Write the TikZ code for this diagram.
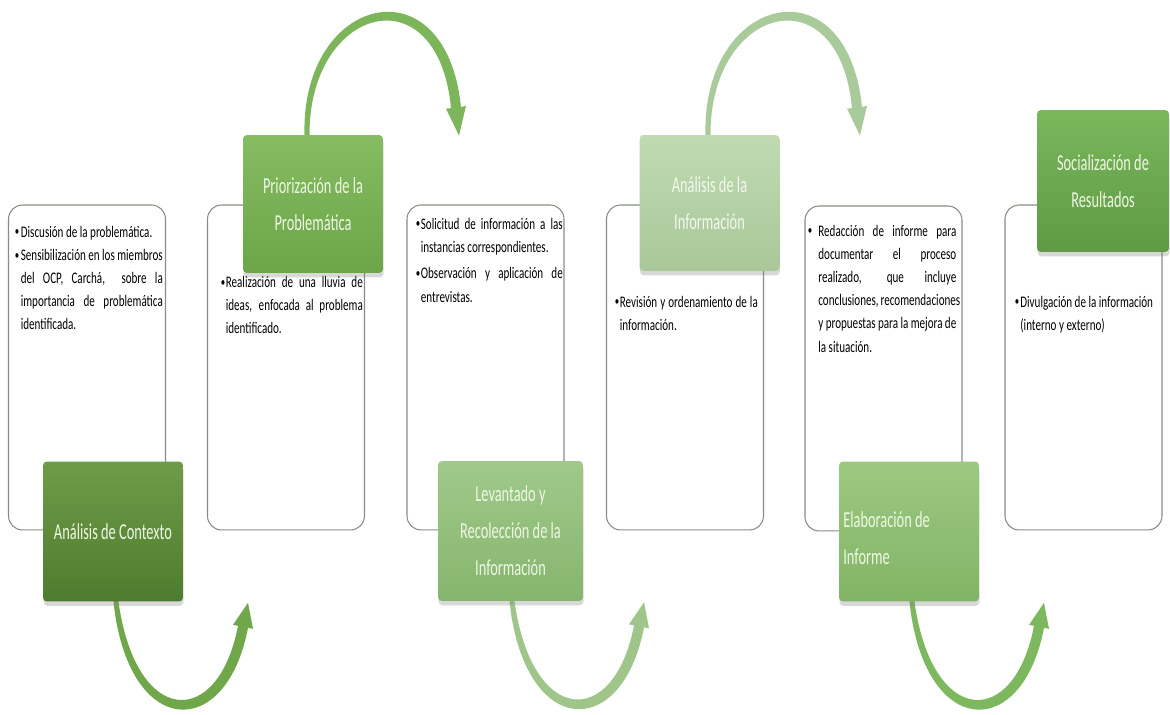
\documentclass[tikz,border=0pt]{standalone}
\usepackage{fontspec}
\usepackage{graphicx}
\newfontfamily\bodyfont{Carlito}[FakeStretch=0.685]
\newfontfamily\titlefont{Carlito}[FakeStretch=0.63]
\usetikzlibrary{calc,shadows}
\pgfdeclarelayer{bg}
\pgfdeclarelayer{back}
\pgfsetlayers{bg,back,main}
\definecolor{boxgray}{HTML}{868E82}
\definecolor{titletext}{HTML}{EEF7E4}
\definecolor{gfourtext}{HTML}{F2F8EC}
\definecolor{gonet}{HTML}{6E9C48}\definecolor{goneb}{HTML}{4E7C2E}
\definecolor{gtwot}{HTML}{86BC62}\definecolor{gtwob}{HTML}{6CA548}
\definecolor{gthreet}{HTML}{A0C98A}\definecolor{gthreeb}{HTML}{86B56E}
\definecolor{gfourt}{HTML}{C0DAB2}\definecolor{gfourb}{HTML}{A9C899}
\definecolor{gfivet}{HTML}{9CC981}\definecolor{gfiveb}{HTML}{82B465}
\definecolor{gsixt}{HTML}{7AB65C}\definecolor{gsixb}{HTML}{5E9B43}
\definecolor{aone}{HTML}{6FA74A}
\definecolor{atwo}{HTML}{7DB55B}
\definecolor{athree}{HTML}{9FC58A}
\definecolor{afour}{HTML}{A9CA9A}
\definecolor{afive}{HTML}{7DB85E}
\newlength\bw
\newlength\bh
\newcommand\jl[1]{\hbox to \bw{\strut#1}}
\newcommand\nl[1]{\hbox{\strut#1}}
\newcommand\bitem[1]{\hbox{\hbox to \bh{\hskip0.3pt\raisebox{0.15ex}{\scalebox{0.8}{\textbullet}}\hss}\vtop{#1}}}
\tikzset{
  pics/botarc/.style={code={
    \fill[#1] (-2.5,-4) -- (-2.5,0) .. controls (12,137) and (110,141) .. (132,26)
      -- (137,27) -- (132,1) -- (117,23) -- (122,24)
      .. controls (102,128) and (20,125) .. (2.5,0) -- (2.5,-4) -- cycle;}},
  pics/toparc/.style={code={
    \fill[#1] (-2.5,4) -- (-2.5,0) .. controls (-6,-140) and (139,-175) .. (154,-27.5)
      -- (159,-29) -- (152,1) -- (139,-26) -- (144,-26.5)
      .. controls (131,-163) and (2,-129) .. (2.5,0) -- (2.5,4) -- cycle;}}
}
\begin{document}
\begin{tikzpicture}[x=0.02cm,y=-0.02cm,
  wbox/.style={draw=boxgray, line width=0.6pt, fill=white, rounded corners=0.28cm,
    minimum width=3.14cm, minimum height=6.5cm, inner sep=0},
  gbox/.style={rounded corners=0.08cm, minimum width=2.8cm, minimum height=2.8cm,
    inner sep=0, drop shadow={shadow xshift=0.3pt, shadow yshift=-2.5pt, opacity=0.3},
    font=\titlefont\fontsize{13}{21}\selectfont, text=titletext, align=center},
  gtitle/.style={inner sep=0, font=\titlefont\fontsize{13}{21}\selectfont, text=titletext},
  body/.style={anchor=north west, inner sep=0,
    font=\bodyfont\fontsize{9.2}{13.2}\selectfont, text=black}
]
\begin{pgfonlayer}{bg}
  \fill[white] (0,0) rectangle (1170,715);
\end{pgfonlayer}
\useasboundingbox (0,0) rectangle (1170,715);

% white boxes
\node[wbox] (b1) at (87,367.5) {};
\node[wbox] (b2) at (286,367.5) {};
\node[wbox] (b3) at (485.5,367.5) {};
\node[wbox] (b4) at (685,367.5) {};
\node[wbox] (b5) at (883.5,368.5) {};
\node[wbox] (b6) at (1083.5,367.5) {};

% body texts
\node[body] (t1) at (14,220.5) {\setlength\bw{2.84cm}\setlength\bh{0.13cm}\vtop{%
  \bitem{\nl{Discusión de la problemática.}}
  \bitem{\jl{Sensibilización en los miembros}\jl{del OCP, Carchá,\ \ sobre la}\jl{importancia de problemática}\nl{identificada.}}}};
\node[body] (t2) at (220,271) {\setlength\bw{2.74cm}\setlength\bh{0.11cm}\vtop{%
  \bitem{\jl{Realización de una lluvia de}\jl{ideas, enfocada al problema}\nl{identificado.}}}};
\node[body] (t3) at (415,212.5) {\setlength\bw{2.84cm}\setlength\bh{0.11cm}\vtop{%
  \bitem{\jl{Solicitud de información a las}\nl{instancias correspondientes.}}\vskip1pt
  \bitem{\jl{Observación y aplicación de}\nl{entrevistas.}}}};
\node[body] (t4) at (614,290.5) {\setlength\bw{2.76cm}\setlength\bh{0.11cm}\vtop{%
  \bitem{\jl{Revisión y ordenamiento de la}\nl{información.}}}};
\node[body] (t5) at (807,219.5) {\setlength\bw{2.76cm}\setlength\bh{0.22cm}\vtop{%
  \bitem{\jl{Redacción de informe para}\jl{documentar el proceso}\jl{realizado, que incluye}\jl{conclusiones, recomendaciones}\jl{y propuestas para la mejora de}\nl{la situación.}}}};
\node[body] (t6) at (1014,290.5) {\setlength\bw{2.7cm}\setlength\bh{0.12cm}\vtop{%
  \bitem{\nl{Divulgación de la información}\nl{(interno y externo)}}}};

% green title boxes
\node[gbox, top color=gonet, bottom color=goneb] (g1) at (113,531.5) {Análisis de Contexto};
\node[gbox, top color=gtwot, bottom color=gtwob, minimum height=2.76cm] (g2) at (313,204) {Priorización de la\\Problemática};
\node[gbox, top color=gthreet, bottom color=gthreeb, minimum width=2.9cm] (g3) at (510.5,531) {Levantado y\\Recolección de la\\Información};
\node[gbox, top color=gfourt, bottom color=gfourb, minimum height=2.72cm, text=gfourtext] (g4) at (709.5,203) {Análisis de la\\Información};
\node[gbox, top color=gfivet, bottom color=gfiveb] (g5) at (909,531.5) {};
\node[gtitle, anchor=west, align=left] (g5t) at (843,538) {Elaboración de\\Informe};
\node[gbox, top color=gsixt, bottom color=gsixb, minimum width=2.64cm, minimum height=2.84cm] (g6) at (1103,181) {Socialización de\\Resultados};

% curved arrows
\begin{pgfonlayer}{back}
  \pic at ($(g1.south)+(3,0)$) {botarc=aone};
  \pic at ($(g2.north)+(-6,0)$) {toparc=atwo};
  \pic at ($(g3.south)+(1.5,0)$) {botarc=athree};
  \pic at ($(g4.north)+(-1.5,0)$) {toparc=afour};
  \pic at ($(g5.south)+(3,0)$) {botarc=afive};
\end{pgfonlayer}
\end{tikzpicture}
\end{document}
